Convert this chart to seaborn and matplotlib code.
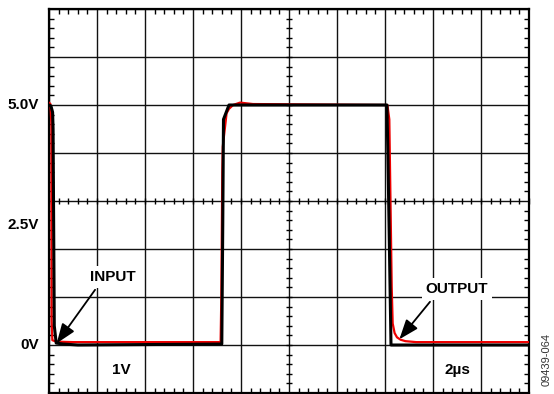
import matplotlib
matplotlib.use('Agg')
import matplotlib.pyplot as plt
import matplotlib.transforms as mtransforms
import seaborn as sns
import numpy as np
import pandas as pd

# 파형 데이터 (시간: µs, 전압: V)
in_t = [0.0, 0.08, 0.15, 0.17, 0.22, 0.3, 0.6, 1.2, 7.2, 7.24, 7.27, 7.5,
        14.08, 14.12, 14.25, 14.4, 20.0]
in_v = [5.0, 4.98, 4.85, 4.5, 0.4, 0.04, 0.02, 0.0, 0.02, 2.5, 4.7, 5.0,
        5.0, 4.0, 0.0, 0.0, 0.0]

out_t = [0.0, 0.06, 0.1, 0.11, 0.14, 0.3, 1.0, 7.15, 7.18, 7.22, 7.24, 7.4,
         7.5, 7.67, 7.96, 8.5, 14.1, 14.18, 14.28, 14.32, 14.4, 14.5, 14.65,
         14.85, 15.3, 20.0]
out_v = [5.05, 5.02, 4.6, 0.5, 0.1, 0.07, 0.06, 0.06, 1.0, 3.6, 4.13, 4.83,
         4.92, 5.0, 5.05, 5.02, 5.0, 4.7, 1.2, 0.45, 0.25, 0.16, 0.11,
         0.08, 0.06, 0.06]

# 화면 눈금 (10 x 8 div, 2µs/div, 1V/div)
x_lim = (0, 20)
y_lim = (-1, 7)
x_div, y_div = 2, 1
volt_labels = [5.0, 2.5, 0.0]
volt_texts = ['5.0V', '2.5V', '0V']

sns.set_style('white')
plt.rcParams['font.family'] = ['Liberation Sans', 'DejaVu Sans']
plt.rcParams['text.color'] = 'black'

fig = plt.figure(figsize=(5.54, 3.94), dpi=100)
ax = fig.add_axes([49 / 554, 1 / 394, 480 / 554, 384 / 394])

df_out = pd.DataFrame({'t': out_t, 'v': out_v})
df_in = pd.DataFrame({'t': in_t, 'v': in_v})
sns.lineplot(data=df_out, x='t', y='v', sort=False, color='#ee0000',
             linewidth=1.6, ax=ax, zorder=4)
sns.lineplot(data=df_in, x='t', y='v', sort=False, color='black',
             linewidth=2.2, ax=ax, zorder=5)

ax.set_xlim(*x_lim)
ax.set_ylim(*y_lim)
ax.set_xlabel('')
ax.set_ylabel('')

# 그리드
ax.set_xticks(np.arange(x_lim[0], x_lim[1] + 0.01, x_div))
ax.set_yticks(np.arange(y_lim[0], y_lim[1] + 0.01, y_div))
ax.set_xticks(np.arange(x_lim[0], x_lim[1] + 0.01, x_div / 5), minor=True)
ax.set_yticks(np.arange(y_lim[0], y_lim[1] + 0.01, y_div / 5), minor=True)
ax.set_xticklabels([])
ax.set_yticklabels([])
ax.grid(True, which='major', color='#111111', linewidth=1.0)
ax.tick_params(which='major', length=0)
ax.tick_params(which='minor', direction='in', length=3.5, width=1.0,
               color='black', top=True, bottom=True, left=True, right=True)
for s in ax.spines.values():
    s.set_visible(True)
    s.set_color('black')
    s.set_linewidth(1.6)

# 중앙선 눈금
xc = (x_lim[0] + x_lim[1]) / 2
yc = (y_lim[0] + y_lim[1]) / 2
tx = np.arange(x_lim[0], x_lim[1] + 0.01, x_div / 5)
ty = np.arange(y_lim[0], y_lim[1] + 0.01, y_div / 5)
ax.plot(tx, np.full_like(tx, yc), ls='none', marker='|', ms=5, mew=1.0,
        color='black', zorder=3, clip_on=False)
ax.plot(np.full_like(ty, xc), ty, ls='none', marker='_', ms=5, mew=1.0,
        color='black', zorder=3, clip_on=False)

# 전압 라벨
trans = mtransforms.blended_transform_factory(ax.transAxes, ax.transData)
for v, s in zip(volt_labels, volt_texts):
    ax.text(-0.021, v, s, transform=trans, ha='right', va='center',
            fontsize=11, fontweight='bold', color='black')

bold = dict(fontsize=11, fontweight='bold', ha='center', va='center',
            color='black')
box = dict(boxstyle='square,pad=0.25', fc='white', ec='none')
ax.text(2.67, 1.42, 'INPUT', bbox=box, zorder=6, **bold)
ax.text(17.0, 1.17, 'OUTPUT', bbox=box, zorder=6, **bold)
arrow = dict(arrowstyle='-|>,head_length=0.8,head_width=0.3', color='black',
             lw=1.3, mutation_scale=15, shrinkA=0, shrinkB=0)
ax.annotate('', xy=(0.32, 0.035), xytext=(1.92, 1.15), arrowprops=arrow,
            zorder=7)
ax.annotate('', xy=(14.6, 0.12), xytext=(15.875, 0.90), arrowprops=arrow,
            zorder=7)

ax.text(3.0, -0.52, '1V', **bold)
ax.text(17.0, -0.52, '2µs', **bold)

fig.text(546.5 / 554, 1 - 360 / 394, '09439-064', rotation=90, ha='center',
         va='center', fontsize=8, color='#333333')

fig.savefig('out.png', dpi=100)
